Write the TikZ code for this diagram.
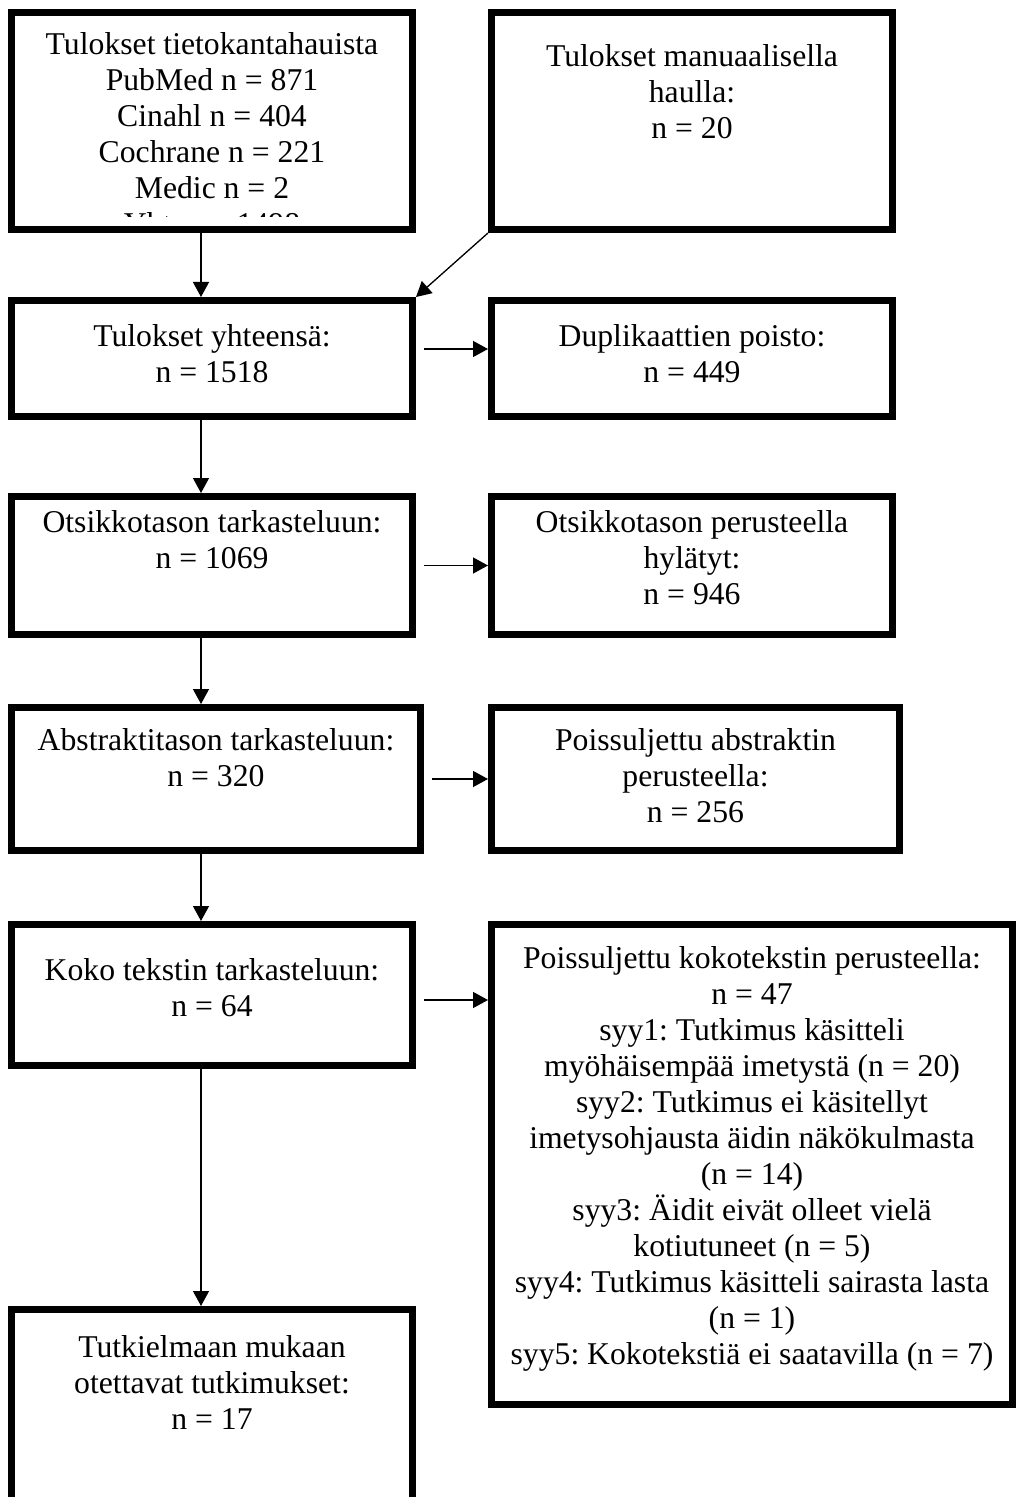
\documentclass[tikz,border=0pt]{standalone}
\usepackage{fontspec}
\setmainfont{Liberation Serif}
\usetikzlibrary{arrows.meta}
\frenchspacing

% box text: width, height, top gap, lines
\newcommand{\boxtext}[4]{\parbox[t][#2][t]{#1}{\centering\vspace*{#3}\strut #4}}

\begin{document}
\begin{tikzpicture}[x=0.5pt,y=-0.5pt,
	font=\fontsize{15.85}{18}\selectfont,
	box/.style={draw,line width=3.5pt,inner sep=0pt,outer sep=1.75pt,anchor=north west},
	arr/.style={-{Triangle[length=7.5pt,width=8pt]},line width=0.65pt}]
	\path[use as bounding box,clip] (0,0) rectangle (1016,1497);
	
	% searches
	\begin{scope}
	\clip (0,0) rectangle (1016,217);
	\node[box] (A) at (8,9) {\boxtext{200.5pt}{108.5pt}{8.65pt}{Tulokset tietokantahauista\\PubMed n = 871\\Cinahl n = 404\\Cochrane n = 221\\Medic n = 2\\Yht. n = 1498}};
	\end{scope}
	\draw[line width=3.5pt] ([shift={(3.5,3.5)}]A.north west) rectangle ([shift={(-3.5,-3.5)}]A.south east);
	\node[box] (B) at (488,9) {\boxtext{200.5pt}{108.5pt}{14.65pt}{Tulokset manuaalisella\\haulla:\\n = 20}};
	
	% left column
	\node[box] (C) at (8,297) {\boxtext{200.5pt}{58pt}{10.65pt}{Tulokset yhteensä:\\n = 1518}};
	\node[box] (E) at (8,493) {\boxtext{200.5pt}{69pt}{5.15pt}{Otsikkotason tarkasteluun:\\n = 1069}};
	\node[box] (G) at (8,704) {\boxtext{204.5pt}{71.5pt}{8.65pt}{Abstraktitason tarkasteluun:\\n = 320}};
	\node[box] (I) at (8,921) {\boxtext{200.5pt}{70.5pt}{15.15pt}{Koko tekstin tarkasteluun:\\n = 64}};
	\node[box] (K) at (8,1306) {\boxtext{200.5pt}{130pt}{11.15pt}{Tutkielmaan mukaan\\otettavat tutkimukset:\\n = 17}};
	
	% right column
	\node[box] (D) at (488,297) {\boxtext{200.5pt}{58pt}{10.65pt}{Duplikaattien poisto:\\n = 449}};
	\node[box] (F) at (488,493) {\boxtext{200.5pt}{69pt}{5.15pt}{Otsikkotason perusteella\\hylätyt:\\n = 946}};
	\node[box] (H) at (488,704) {\boxtext{204pt}{71.5pt}{8.65pt}{Poissuljettu abstraktin\\perusteella:\\n = 256}};
	\node[box] (J) at (488,921) {\boxtext{260.5pt}{240pt}{9.15pt}{Poissuljettu kokotekstin perusteella:\\n = 47\\syy1: Tutkimus käsitteli\\myöhäisempää imetystä (n = 20)\\syy2: Tutkimus ei käsitellyt\\imetysohjausta äidin näkökulmasta\\(n = 14)\\syy3: Äidit eivät olleet vielä\\kotiutuneet (n = 5)\\syy4: Tutkimus käsitteli sairasta lasta\\(n = 1)\\syy5: Kokotekstiä ei saatavilla (n = 7)}};
	
	\coordinate (ax) at (201,0);
	
	\draw[arr] (A.south -| ax) -- (C.north -| ax);
	\draw[arr] (C.south -| ax) -- (E.north -| ax);
	\draw[arr] (E.south -| ax) -- (G.north -| ax);
	\draw[arr] (G.south -| ax) -- (I.north -| ax);
	\draw[arr] (I.south -| ax) -- (K.north -| ax);
	
	\draw[arr] (B.south west) -- (C.north east);
	\draw[arr,shorten <=4pt] ([yshift=4.75pt]C.east) -- ([yshift=4.75pt]D.west);
	\draw[arr,shorten <=4pt] (E.east) -- (F.west);
	\draw[arr,shorten <=4pt] (G.east) -- (G.east -| H.west);
	\draw[arr,shorten <=4pt] ([yshift=-2.5pt]I.east) -- ([yshift=-2.5pt]I.east -| J.west);
\end{tikzpicture}
\end{document}
